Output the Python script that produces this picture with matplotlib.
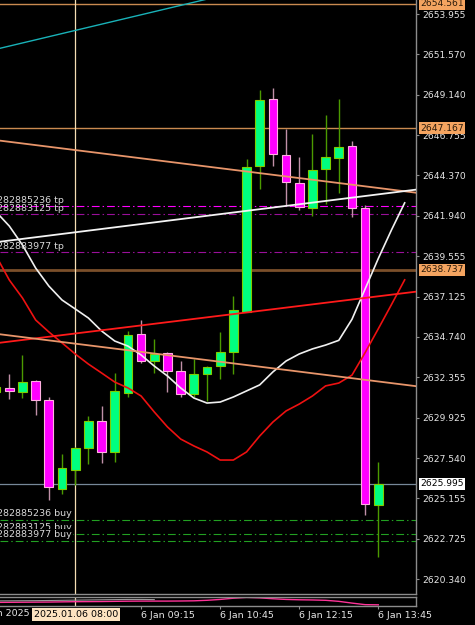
import matplotlib
matplotlib.use("Agg")
import matplotlib.pyplot as plt

# XAUUSD M15 candles, 6 Jan 2025 (bar 0 = first whole candle on the left)
bar_index = list(range(-1, 29))
opens = [2631.47, 2631.72, 2631.47, 2632.12, 2630.99, 2625.70, 2626.83, 2628.14,
         2629.76, 2627.88, 2631.43, 2634.92, 2633.29, 2633.77, 2632.72, 2631.35,
         2632.56, 2633.00, 2633.87, 2636.25, 2644.91, 2648.88, 2645.58, 2643.88,
         2642.41, 2644.72, 2645.41, 2646.08, 2642.43, 2624.73]
highs = [2632.00, 2632.54, 2633.67, 2632.18, 2631.17, 2627.78, 2628.20, 2630.04,
         2630.65, 2632.60, 2635.10, 2635.75, 2634.62, 2633.85, 2633.33, 2633.41,
         2633.00, 2635.05, 2637.18, 2645.33, 2649.43, 2649.54, 2647.10, 2645.47,
         2646.80, 2647.93, 2648.90, 2646.40, 2642.59, 2627.32]
lows = [2631.30, 2631.05, 2631.11, 2630.10, 2625.04, 2625.40, 2625.93, 2627.18,
        2627.23, 2627.32, 2631.17, 2633.17, 2632.58, 2631.49, 2631.15, 2631.15,
        2630.95, 2632.24, 2632.54, 2636.20, 2643.53, 2644.91, 2642.59, 2642.30,
        2641.94, 2642.65, 2643.32, 2641.90, 2624.15, 2621.64]
closes = [2631.77, 2631.55, 2632.08, 2630.99, 2625.81, 2626.95, 2628.14, 2629.76,
          2627.88, 2631.55, 2634.88, 2633.33, 2633.73, 2632.72, 2631.35, 2632.56,
          2632.94, 2633.83, 2636.33, 2644.87, 2648.84, 2645.63, 2643.96, 2642.46,
          2644.68, 2645.45, 2646.04, 2642.40, 2624.81, 2625.995]

# moving averages (drawn 2 bars forward)
ma_index = list(range(-1, 31))
ma_fast = [2642.18, 2641.34, 2640.21, 2638.84, 2637.77, 2636.94, 2636.41, 2635.87,
           2635.10, 2634.50, 2634.20, 2633.67, 2633.01, 2632.42, 2631.71, 2631.11,
           2630.81, 2630.87, 2631.17, 2631.53, 2631.89, 2632.66, 2633.31, 2633.73,
           2634.03, 2634.26, 2634.54, 2635.79, 2637.60, 2639.41, 2641.11, 2642.72]
ma_slow = [2639.56, 2638.13, 2637.06, 2635.75, 2635.04, 2634.39, 2633.73, 2633.13,
           2632.60, 2632.06, 2631.71, 2631.23, 2630.28, 2629.39, 2628.67, 2628.26,
           2627.90, 2627.42, 2627.42, 2627.90, 2628.85, 2629.68, 2630.34, 2630.75,
           2631.23, 2631.83, 2632.00, 2632.47, 2633.81, 2635.23, 2636.67, 2638.14]

# trend lines, price at bar -1 and bar 31
trend_x = [-1, 31]
cyan_line = [2651.86, 2657.82]
salmon_high = [2646.45, 2643.31]
white_line = [2640.38, 2643.52]
red_line = [2634.37, 2637.45]
salmon_low = [2634.93, 2631.80]

# horizontal levels
level_prices = [2654.561, 2647.167, 2638.737]
tp_prices = [2642.53, 2642.07, 2639.81]
tp_names = ["282885236 tp", "282883125 tp", "282883977 tp"]
buy_prices = [2623.85, 2623.04, 2622.60]
buy_names = ["282885236 buy", "282883125 buy", "282883977 buy"]
bid_price = 2625.995

price_ticks = [2653.955, 2651.570, 2649.140, 2646.755, 2644.370, 2641.940, 2639.555,
               2637.125, 2634.740, 2632.355, 2629.925, 2627.540, 2625.155, 2622.725,
               2620.340]
time_ticks = [10, 16, 22, 28]
time_labels = ["6 Jan 09:15", "6 Jan 10:45", "6 Jan 12:15", "6 Jan 13:45"]
cursor_bar = 5
cursor_label = "2025.01.06 08:00"

# small indicator window at the bottom
sub_pink = [0.38, 0.39, 0.40, 0.41, 0.42, 0.44, 0.46, 0.47, 0.48, 0.50, 0.52, 0.53,
            0.53, 0.53, 0.54, 0.56, 0.62, 0.72, 0.86, 0.95, 0.90, 0.80, 0.72, 0.68,
            0.66, 0.62, 0.50, 0.30, 0.12, 0.10]
sub_grey = [0.55, 0.56, 0.57, 0.58, 0.60, 0.62, 0.64, 0.66, 0.68, 0.70, 0.72, 0.72, 0.70]

BG = "black"
AXC = "#8c8c8c"
TXT = "#e6e6e6"

fig = plt.figure(figsize=(4.75, 6.25), dpi=100, facecolor=BG)
ax = fig.add_axes([0, 1 - 594 / 625, 416 / 475, 594 / 625], facecolor=BG)
ax2 = fig.add_axes([0, 1 - 605.7 / 625, 416 / 475, 8.7 / 625], facecolor=BG, sharex=ax)

# horizontal levels (behind candles)
for p, c, w in zip(level_prices, ["#c98a50", "#c98a50", "#7b4f2a"], [1.0, 1.0, 2.0]):
    ax.axhline(p, color=c, lw=w, zorder=1)
ax.axhline(bid_price, color="#778899", lw=0.9, zorder=1)
dashdot = (0, (7, 2.7, 1.3, 2.7))
for p, c in zip(tp_prices, ["#ff00ff", "#9a109a", "#9a109a"]):
    ax.axhline(p, color=c, lw=0.8, ls=dashdot, zorder=1)
for p in buy_prices:
    ax.axhline(p, color="#22a022", lw=0.8, ls=dashdot, zorder=1)

# crosshair
ax.axvline(cursor_bar, color="#f5deb3", lw=0.9, zorder=1.5)
ax2.axvline(cursor_bar, color="#f5deb3", lw=0.9, zorder=1.5)

# candles
for x, o, h, l, c in zip(bar_index, opens, highs, lows, closes):
    up = c >= o
    wick = "#4c9a00" if up else "#c090a8"
    face = "#00ff7f" if up else "#ff00ff"
    edge = "#7fcc00" if up else "#ffb0e0"
    ax.vlines(x, l, h, color=wick, lw=1.0, zorder=2)
    ax.bar(x, max(abs(c - o), 0.08), bottom=min(o, c), width=0.66,
           color=face, edgecolor=edge, linewidth=0.8, zorder=2.2)

# indicators and trend lines
ax.plot(ma_index, ma_fast, color="#f0f0f0", lw=1.2, zorder=3)
ax.plot(ma_index, ma_slow, color="#ee1111", lw=1.2, zorder=3)
ax.plot(trend_x, cyan_line, color="#19b2b8", lw=1.0, zorder=3)
ax.plot(trend_x, salmon_high, color="#e8956a", lw=1.3, zorder=3)
ax.plot(trend_x, white_line, color="#f4f4f4", lw=1.3, zorder=3)
ax.plot(trend_x, red_line, color="#ff1a1a", lw=1.3, zorder=3)
ax.plot(trend_x, salmon_low, color="#e8956a", lw=1.3, zorder=3)

# order labels on the left
for p, name in zip(tp_prices, tp_names):
    ax.annotate(name, xy=(0, p), xycoords=("axes fraction", "data"), xytext=(-3, 1),
                textcoords="offset pixels", ha="left", va="bottom", fontsize=6.8,
                color="#d8d8d8", zorder=5, annotation_clip=False)
for p, name in zip(buy_prices, buy_names):
    ax.annotate(name, xy=(0, p), xycoords=("axes fraction", "data"), xytext=(-3, 2),
                textcoords="offset pixels", ha="left", va="bottom", fontsize=6.8,
                color="#d8d8d8", zorder=5, annotation_clip=False,
                bbox=dict(boxstyle="square,pad=0.1", fc=BG, ec="none"))

ax.set_xlim(-0.706, 30.86)
ax.set_ylim(2619.45, 2654.788)

ax.yaxis.tick_right()
ax.set_yticks(price_ticks)
ax.set_yticklabels([f"{p:.3f}" for p in price_ticks])
ax.tick_params(axis="y", colors=AXC, labelcolor=TXT, labelsize=6.6, length=2.5, width=0.8, pad=2)
ax.tick_params(axis="x", bottom=False, labelbottom=False)
for s in ["top", "left"]:
    ax.spines[s].set_visible(False)
for s in ["right", "bottom"]:
    ax.spines[s].set_color(AXC)
    ax.spines[s].set_linewidth(1.0)

# boxed price labels on the right
for p in level_prices:
    ax.annotate(f"{p:.3f}", xy=(1, p), xycoords=("axes fraction", "data"), xytext=(4, 0),
                textcoords="offset pixels", ha="left", va="center", fontsize=6.6,
                color="#2a1a0a", zorder=10, annotation_clip=False,
                bbox=dict(boxstyle="square,pad=0.15", fc="#f4a460", ec="none"))
ax.annotate(f"{bid_price:.3f}", xy=(1, bid_price), xycoords=("axes fraction", "data"),
            xytext=(4, 0), textcoords="offset pixels", ha="left", va="center", fontsize=6.6,
            color="black", zorder=10, annotation_clip=False,
            bbox=dict(boxstyle="square,pad=0.15", fc="white", ec="none"))

# indicator window
ax2.plot(bar_index, sub_pink, color="#ff3399", lw=1.0)
ax2.plot(bar_index[:len(sub_grey)], sub_grey, color="#9a9a9a", lw=0.8)
ax2.set_ylim(0, 1)
ax2.set_yticks([])
for s in ax2.spines.values():
    s.set_color(AXC)
    s.set_linewidth(1.0)
ax2.spines["left"].set_visible(False)
ax2.set_xticks(time_ticks)
ax2.set_xticklabels(time_labels)
ax2.tick_params(axis="x", colors=AXC, labelcolor=TXT, labelsize=6.8, length=2.5, width=0.8, pad=1.5)
for lab in ax2.get_xticklabels():
    lab.set_ha("left")

# time labels left of the crosshair
fig.text(30 / 475, 1 - 614 / 625, "6 Jan 2025", ha="right", va="center", fontsize=6.8, color=TXT)
fig.text((cursor_bar * 13.18 + 9.3 + 0.5) / 475, 1 - 614.5 / 625, cursor_label, ha="center",
         va="center", fontsize=6.8, color="black",
         bbox=dict(boxstyle="square,pad=0.2", fc="#fde3c0", ec="none"))

fig.savefig("out.png", dpi=100, facecolor=BG)
